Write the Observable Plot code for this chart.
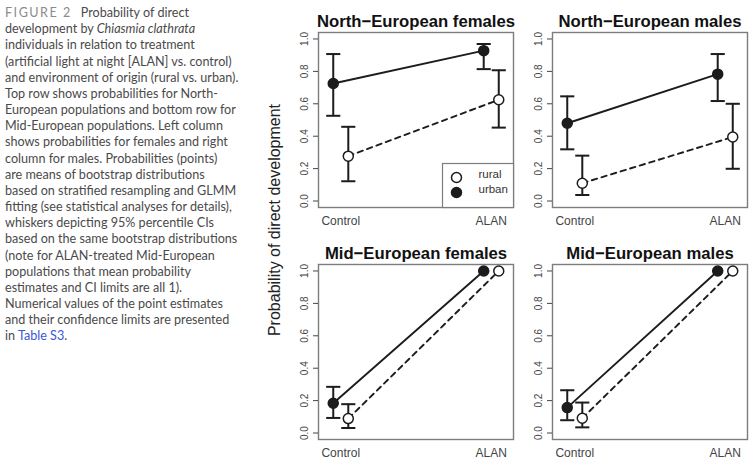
<!DOCTYPE html>
<html>
<head>
<meta charset="utf-8">
<script src="https://cdn.jsdelivr.net/npm/d3@7"></script>
<script src="https://cdn.jsdelivr.net/npm/@observablehq/plot@0.6"></script>
<style>
  html, body { margin: 0; padding: 0; background: #fff; }
  body { width: 753px; height: 466px; position: relative; overflow: hidden; }
  #caption { position: absolute; left: 5px; top: 5px; font-family: Lato, "Open Sans", sans-serif; font-size: 12.6px; line-height: 16.17px; color: #4a4a4a; font-weight: 400; }
  #caption div { white-space: nowrap; }
  #caption .fig { color: #8a8a8a; letter-spacing: 1.5px; font-size: 12.6px; margin-right: 9px; }
  #caption .link { color: #3b56d6; }
  #ylab { position: absolute; left: 275px; top: 220px; transform: translate(-50%, -50%) rotate(-90deg); white-space: nowrap; font-family: "Liberation Sans", Arial, sans-serif; font-size: 16px; color: #222; }
  .panel { position: absolute; }
</style>
</head>
<body>
<div id="caption">
  <div><span class="fig">FIGURE 2</span>Probability of direct</div>
  <div>development by <i>Chiasmia clathrata</i></div>
  <div>individuals in relation to treatment</div>
  <div>(artificial light at night [ALAN] vs. control)</div>
  <div>and environment of origin (rural vs. urban).</div>
  <div>Top row shows probabilities for North-</div>
  <div>European populations and bottom row for</div>
  <div>Mid-European populations. Left column</div>
  <div>shows probabilities for females and right</div>
  <div>column for males. Probabilities (points)</div>
  <div>are means of bootstrap distributions</div>
  <div>based on stratified resampling and GLMM</div>
  <div>fitting (see statistical analyses for details),</div>
  <div>whiskers depicting 95% percentile CIs</div>
  <div>based on the same bootstrap distributions</div>
  <div>(note for ALAN-treated Mid-European</div>
  <div>populations that mean probability</div>
  <div>estimates and CI limits are all 1).</div>
  <div>Numerical values of the point estimates</div>
  <div>and their confidence limits are presented</div>
  <div>in <span class="link">Table S3</span>.</div>
</div>
<div id="ylab">Probability of direct development</div>
<div id="p0" class="panel" style="left:280px;top:0px"></div>
<div id="p1" class="panel" style="left:514px;top:0px"></div>
<div id="p2" class="panel" style="left:280px;top:232px"></div>
<div id="p3" class="panel" style="left:514px;top:232px"></div>
<script>
// ---- data ----
const panelTitles = ["North\u2212European females", "North\u2212European males", "Mid\u2212European females", "Mid\u2212European males"];
const treatments = ["Control", "ALAN"];
const environments = ["rural", "urban"];
const urbanMean  = [[0.725, 0.928], [0.480, 0.783], [0.184, 1.0], [0.157, 1.0]];
const urbanLower = [[0.526, 0.814], [0.319, 0.617], [0.093, 1.0], [0.079, 1.0]];
const urbanUpper = [[0.907, 0.969], [0.646, 0.907], [0.285, 1.0], [0.264, 1.0]];
const ruralMean  = [[0.277, 0.625], [0.110, 0.395], [0.089, 1.0], [0.091, 1.0]];
const ruralLower = [[0.122, 0.453], [0.037, 0.199], [0.031, 1.0], [0.035, 1.0]];
const ruralUpper = [[0.458, 0.807], [0.280, 0.600], [0.178, 1.0], [0.188, 1.0]];
const yTicks = [0, 0.2, 0.4, 0.6, 0.8, 1.0];

// ---- styling ----
const ink = "#1c1c1c";
const frameColor = "#7c7c7c";
const dodge = {urban: -0.05, rural: 0.05};
const cap = 0.047;

function rowsFor(p) {
  const out = [];
  treatments.forEach((t, i) => {
    out.push({env: "urban", treatment: t, t: i + 1, mean: urbanMean[p][i], lo: urbanLower[p][i], hi: urbanUpper[p][i]});
    out.push({env: "rural", treatment: t, t: i + 1, mean: ruralMean[p][i], lo: ruralLower[p][i], hi: ruralUpper[p][i]});
  });
  return out;
}
const X = d => d.t + dodge[d.env];

function panel(p, legend) {
  const rows = rowsFor(p);
  const urban = rows.filter(d => d.env === "urban");
  const rural = rows.filter(d => d.env === "rural");
  const bars = rows.filter(d => d.hi > d.lo);
  const marks = [
    Plot.frame({stroke: frameColor, strokeWidth: 1.4}),
    Plot.axisY({ticks: yTicks, tickFormat: d3.format(".1f"), tickRotate: -90, tickSize: 5, tickPadding: 6, fontSize: 10, label: null}),
    Plot.axisX({ticks: [1, 2], tickFormat: d => treatments[d - 1], tickSize: 0, tickPadding: 9, fontSize: 12, label: null}),
    Plot.line(urban, {x: X, y: "mean", stroke: ink, strokeWidth: 1.9}),
    Plot.line(rural, {x: X, y: "mean", stroke: ink, strokeWidth: 1.9, strokeDasharray: "5.5,4.5"}),
    Plot.ruleX(bars, {x: X, y1: "lo", y2: "hi", stroke: ink, strokeWidth: 2}),
    Plot.link(bars, {x1: d => X(d) - cap, x2: d => X(d) + cap, y1: "hi", y2: "hi", stroke: ink, strokeWidth: 2}),
    Plot.link(bars, {x1: d => X(d) - cap, x2: d => X(d) + cap, y1: "lo", y2: "lo", stroke: ink, strokeWidth: 2}),
    Plot.dot(urban, {x: X, y: "mean", r: 5, fill: ink, stroke: ink, strokeWidth: 1.5}),
    Plot.dot(rural, {x: X, y: "mean", r: 5, fill: "white", stroke: ink, strokeWidth: 1.5}),
    Plot.text([panelTitles[p]], {text: d => d, frameAnchor: "top", dy: -17, fontSize: 16.7, fontWeight: "bold", fill: "#111"})
  ];
  if (legend) {
    marks.push(
      Plot.frame({insetLeft: 124, insetTop: 131, stroke: frameColor, strokeWidth: 1.2, fill: "white"}),
      Plot.dot([environments[0]], {frameAnchor: "bottom-right", dx: -57, dy: -30, r: 5, fill: "white", stroke: ink, strokeWidth: 1.5}),
      Plot.dot([environments[1]], {frameAnchor: "bottom-right", dx: -57, dy: -15, r: 5, fill: ink, stroke: ink, strokeWidth: 1.5}),
      Plot.text([environments[0]], {text: d => d, frameAnchor: "bottom-right", dx: -35, dy: -30, textAnchor: "start", fontSize: 11.5, fill: "#333"}),
      Plot.text([environments[1]], {text: d => d, frameAnchor: "bottom-right", dx: -35, dy: -15, textAnchor: "start", fontSize: 11.5, fill: "#333"})
    );
  }
  return Plot.plot({
    width: 236,
    height: 230,
    marginLeft: 38,
    marginRight: 3,
    marginTop: 32,
    marginBottom: 23,
    x: {domain: [0.852, 2.148]},
    y: {domain: [-0.04, 1.04]},
    style: {fontFamily: "'Liberation Sans', Arial, sans-serif", color: "#444", background: "transparent", overflow: "visible"},
    marks
  });
}

panelTitles.forEach((_, p) => {
  document.getElementById("p" + p).appendChild(panel(p, p === 0));
});
</script>
</body>
</html>
